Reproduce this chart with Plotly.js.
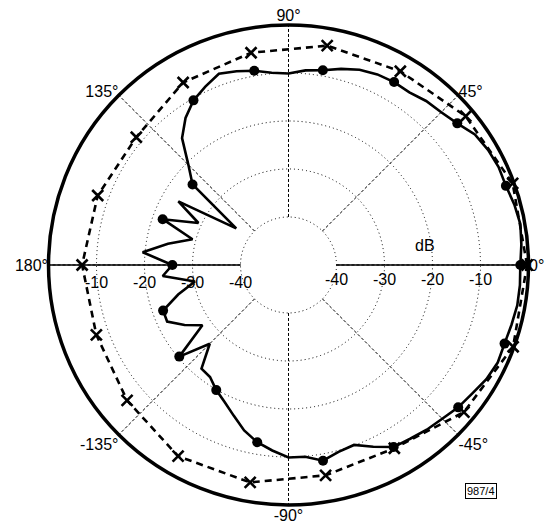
<!DOCTYPE html>
<html>
<head>
<meta charset="utf-8">
<script src="https://cdn.plot.ly/plotly-3.0.1.min.js"></script>
<style>html,body{margin:0;padding:0;background:#fff;}#chart{width:553px;height:527px;}</style>
</head>
<body>
<div id="chart"></div>
<script>
// Solid trace (measured response), angle in degrees, level in dB
const solidTheta = [0,5,10,15,20,25,30,35,40,45,50,55,60,65,70,75,80,85,90,95,100,105,110,115,120,125,130,135,140,145,150,155,160,165,170,175,180,185,190,195,200,205,210,215,220,225,230,235,240,245,250,255,260,265,270,275,280,285,290,295,300,305,310,315,320,325,330,335,340,345,350,355,360];
const solidR = [-1.7,-1.3,-0.95,-1.3,-1.8,-1.7,-2.0,-2.6,-4.1,-5.0,-5.4,-6.1,-6.0,-6.2,-6.7,-7.7,-8.8,-9.3,-10.1,-9.8,-8.9,-8.2,-7.6,-9.0,-10.4,-12.6,-15.5,-20.5,-23.9,-36.7,-23.5,-29.3,-22.1,-29.3,-24.5,-19.5,-25.8,-23.7,-30.2,-26.2,-22.2,-22.1,-25.0,-28.1,-20.3,-26.8,-21.8,-21.5,-19.9,-18.5,-16.6,-14.3,-12.5,-11.2,-9.9,-9.9,-8.6,-9.7,-10.1,-8.2,-6.2,-5.8,-5.2,-4.7,-3.85,-3.3,-2.4,-1.9,-2.1,-1.9,-1.6,-1.6,-1.7];
// Dashed trace (reference response)
const dashTheta = [0,20,40,60,80,100,120,140,160,180,200,220,240,260,280,300,320,340,360];
const dashR = [-0.3,-0.3,-1.8,-3.4,-3.6,-5.1,-6.1,-8.6,-7.7,-7.0,-7.4,-6.1,-4.0,-4.0,-5.5,-5.9,-2.3,-0.2,-0.3];
// Axis labels
const radialTicks = [-40,-30,-20,-10];
const radialTickText = ['-40','-30','-20','-10'];
const angleTicks = [0,45,90,135,180,225,270,315];
const angleTickText = ['0°','45°','90°','135°','180°','-135°','-90°','-45°'];

const dotIdx = solidTheta.map((t,i)=>i).filter(i => solidTheta[i] % 20 === 0 && solidTheta[i] < 360);
const FONT = 'Liberation Sans, Arial, Helvetica, sans-serif';

const traces = [
  {type:'scatterpolar', subplot:'polar', r:dashR, theta:dashTheta, mode:'lines',
   line:{color:'black', width:2.6, dash:'7px,5px'}, hoverinfo:'skip', showlegend:false, cliponaxis:false},
  {type:'scatterpolar', subplot:'polar', r:dashR.slice(0,-1), theta:dashTheta.slice(0,-1), mode:'markers',
   marker:{symbol:'x-thin-open', size:11, color:'black', line:{color:'black', width:2.6}}, hoverinfo:'skip', showlegend:false, cliponaxis:false},
  {type:'scatterpolar', subplot:'polar', r:solidR, theta:solidTheta, mode:'lines',
   line:{color:'black', width:2.6}, hoverinfo:'skip', showlegend:false, cliponaxis:false},
  {type:'scatterpolar', subplot:'polar', r:dotIdx.map(i=>solidR[i]), theta:dotIdx.map(i=>solidTheta[i]), mode:'markers',
   marker:{symbol:'circle', size:10, color:'black'}, hoverinfo:'skip', showlegend:false, cliponaxis:false},
  {type:'scatterpolar', subplot:'polar2', r:[], theta:[], mode:'markers', hoverinfo:'skip', showlegend:false},
  {type:'scatterpolar', subplot:'polar3', r:[], theta:[], mode:'markers', hoverinfo:'skip', showlegend:false}
];

const dom = {x:[0.0877, 0.9557], y:[0.0418, 0.9526]};
const tickFont = {family:FONT, size:16, color:'black'};
const radialBase = {range:[-40,0], tickmode:'array', tickvals:radialTicks, ticktext:radialTickText,
  ticks:'', showline:true, linecolor:'black', linewidth:1.5, tickfont:tickFont};

const layout = {
  width:553, height:527, margin:{l:0,r:0,t:0,b:0},
  paper_bgcolor:'white', font:{family:FONT, color:'black'}, showlegend:false,
  polar:{domain:dom, hole:0.2, bgcolor:'rgba(0,0,0,0)',
    radialaxis:Object.assign({}, radialBase, {angle:0, side:'clockwise', showgrid:true, gridcolor:'black', gridwidth:1, griddash:'1px,3px'}),
    angularaxis:{tickmode:'array', tickvals:angleTicks, ticktext:angleTickText, direction:'counterclockwise', rotation:0,
      showline:false, ticks:'', showgrid:true, gridcolor:'black', gridwidth:1, griddash:'3px,2px', tickfont:tickFont}
  },
  polar2:{domain:dom, hole:0.2, bgcolor:'rgba(0,0,0,0)',
    radialaxis:Object.assign({}, radialBase, {angle:180, side:'counterclockwise', tickangle:180, showgrid:false}),
    angularaxis:{visible:false, showline:false, showgrid:false, ticks:'', showticklabels:false}
  },
  polar3:{domain:dom, hole:0, bgcolor:'rgba(0,0,0,0)',
    radialaxis:{range:[-50,0], tickmode:'array', tickvals:[-40], showticklabels:false, ticks:'', showline:false,
      showgrid:true, gridcolor:'black', gridwidth:1, griddash:'1px,3px'},
    angularaxis:{showline:true, linecolor:'black', linewidth:3.5, showgrid:false, ticks:'', showticklabels:false}
  },
  annotations:[
    {text:'dB', xref:'paper', yref:'paper', x:0.790, y:0.535, showarrow:false, font:{family:FONT, size:16, color:'black'}},
    {text:'987/4', xref:'paper', yref:'paper', x:0.899, y:0.053, showarrow:false, bordercolor:'black', borderwidth:1, borderpad:1,
     font:{family:FONT, size:11, color:'black'}}
  ]
};

Plotly.newPlot('chart', traces, layout, {staticPlot:true, displayModeBar:false});
</script>
</body>
</html>
